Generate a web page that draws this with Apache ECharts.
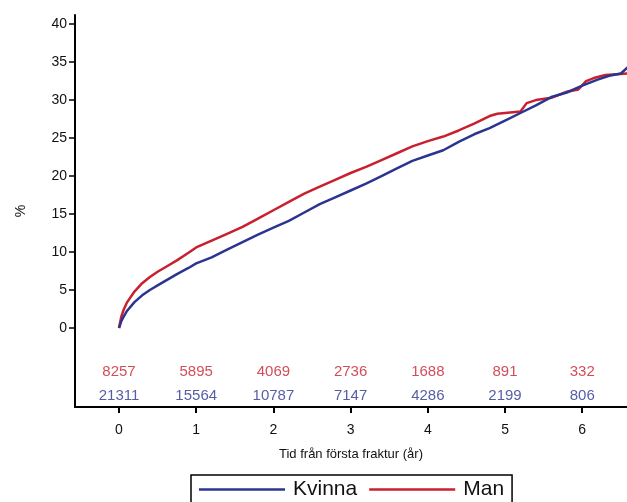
<!DOCTYPE html>
<html>
<head>
<meta charset="utf-8">
<script src="https://cdn.jsdelivr.net/npm/echarts@6/dist/echarts.min.js"></script>
<style>html,body{margin:0;padding:0;background:#fff}#c{width:627px;height:502px}</style>
</head>
<body>
<div id="c"></div>
<script>
const manTime = [0,0.03,0.06,0.1,0.2,0.3,0.4,0.5,0.6,0.75,0.9,1.0,1.2,1.4,1.6,1.8,2.0,2.2,2.4,2.6,2.8,3.0,3.2,3.4,3.6,3.8,4.0,4.2,4.4,4.6,4.8,4.9,5.1,5.2,5.28,5.4,5.6,5.8,5.95,6.05,6.15,6.3,6.45,6.6];
const manVal  = [0,1.5,2.4,3.3,4.8,5.9,6.7,7.4,8.0,8.9,9.9,10.6,11.5,12.4,13.3,14.4,15.5,16.6,17.7,18.6,19.5,20.4,21.2,22.1,23.0,23.9,24.6,25.2,26.0,26.9,27.9,28.2,28.4,28.5,29.6,30.0,30.3,31.1,31.4,32.5,32.9,33.3,33.4,33.5];
const kvinnaTime = [0,0.03,0.06,0.1,0.2,0.3,0.4,0.5,0.6,0.75,0.9,1.0,1.2,1.4,1.6,1.8,2.0,2.2,2.4,2.6,2.8,3.0,3.2,3.4,3.6,3.8,4.0,4.2,4.4,4.6,4.8,5.0,5.2,5.4,5.6,5.8,6.0,6.2,6.35,6.5,6.6];
const kvinnaVal  = [0,0.9,1.5,2.2,3.4,4.3,5.0,5.6,6.2,7.1,7.9,8.5,9.3,10.3,11.3,12.3,13.2,14.1,15.2,16.3,17.2,18.1,19.0,20.0,21.0,22.0,22.7,23.4,24.5,25.5,26.3,27.3,28.3,29.3,30.4,31.0,31.9,32.7,33.2,33.5,34.4];
const riskTimes = [0,1,2,3,4,5,6];
const riskMan = [8257,5895,4069,2736,1688,891,332];
const riskKvinna = [21311,15564,10787,7147,4286,2199,806];
const yTicks = [0,5,10,15,20,25,30,35,40];
const xTicks = [0,1,2,3,4,5,6];

const RED = '#c8202e', BLUE = '#2b3590';
const font = 'Liberation Sans, Arial, sans-serif';
const chart = echarts.init(document.getElementById('c'));
const zip = (a,b) => a.map((t,i)=>[t,b[i]]);
chart.setOption({
  animation:false,
  grid:{left:75, right:0, top:15, bottom:95},
  xAxis:{type:'value', min:-0.57, max:6.58,
    axisLine:{onZero:false, lineStyle:{color:'#000', width:2}},
    axisTick:{customValues:xTicks, length:6, lineStyle:{color:'#000', width:2}},
    axisLabel:{customValues:xTicks, color:'#111', fontSize:14, fontFamily:font, margin:16},
    splitLine:{show:false},
    name:'Tid från första fraktur (år)', nameLocation:'middle', nameGap:41,
    nameTextStyle:{color:'#111', fontSize:13, fontFamily:font}
  },
  yAxis:{type:'value', min:-10.4, max:41.2,
    axisLine:{show:true, onZero:false, lineStyle:{color:'#000', width:2}},
    axisTick:{show:true, customValues:yTicks, length:6, lineStyle:{color:'#000', width:1.5}},
    axisLabel:{customValues:yTicks, color:'#111', fontSize:14, fontFamily:font, margin:8},
    splitLine:{show:false},
    name:'%', nameLocation:'middle', nameGap:47, nameRotate:90,
    nameTextStyle:{color:'#111', fontSize:14, fontFamily:font}
  },
  legend:{data:[{name:'Kvinna', icon:'rect'},{name:'Man', icon:'rect'}], left:191, top:475, itemWidth:86, itemHeight:2.5, itemGap:12,
    borderColor:'#000', borderWidth:1.5, padding:[4,8,6,8],
    textStyle:{fontSize:21, color:'#111', fontFamily:font, padding:[0,0,0,3]}},
  series:[
    {name:'Kvinna', type:'line', data:zip(kvinnaTime,kvinnaVal), symbol:'none',
      lineStyle:{color:BLUE, width:2.5}, itemStyle:{color:BLUE}, z:3},
    {name:'Man', type:'line', data:zip(manTime,manVal), symbol:'none',
      lineStyle:{color:RED, width:2.5}, itemStyle:{color:RED}, z:2},
    {name:'riskMan', type:'scatter', symbolSize:0, data:riskTimes.map((t,i)=>[t,-5.8,riskMan[i]]),
      label:{show:true, position:'inside', formatter:p=>p.data[2], color:RED, fontSize:15, fontFamily:font}},
    {name:'riskKvinna', type:'scatter', symbolSize:0, data:riskTimes.map((t,i)=>[t,-8.95,riskKvinna[i]]),
      label:{show:true, position:'inside', formatter:p=>p.data[2], color:BLUE, fontSize:15, fontFamily:font}}
  ]
});
</script>
</body>
</html>
